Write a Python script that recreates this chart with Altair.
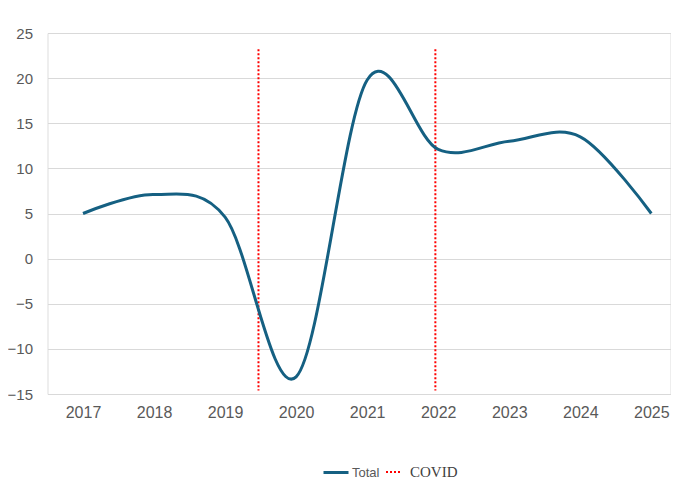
import altair as alt
import pandas as pd

years = [2017, 2018, 2019, 2020, 2021, 2022, 2023, 2024, 2025]
totals = [5.0, 7.1, 4.6, -13.1, 19.8, 12.1, 13.0, 13.5, 5.0]
covid_x = [2019.47, 2021.96]
covid_top = [23.2, 23.2]
covid_bottom = [-14.6, -14.6]
y_ticks = [-15, -10, -5, 0, 5, 10, 15, 20, 25]

line_df = pd.DataFrame({"year": years, "value": totals, "series": ["Total"] * len(years)})
covid_df = pd.DataFrame({"x": covid_x, "top": covid_top, "bottom": covid_bottom,
                         "cv": ["COVID"] * len(covid_x)})

xscale = alt.Scale(domain=[2016.5, 2025.27], nice=False, zero=False)
yscale = alt.Scale(domain=[-15, 25], nice=False, zero=False)

line = alt.Chart(line_df).mark_line(interpolate="cardinal", strokeWidth=3).encode(
    x=alt.X("year:Q", scale=xscale,
            axis=alt.Axis(values=years, format="d", title=None, grid=False, domain=False,
                          ticks=False, labelPadding=10, labelFontSize=16,
                          labelColor="#595959", labelFont="Liberation Sans")),
    y=alt.Y("value:Q", scale=yscale,
            axis=alt.Axis(values=y_ticks, title=None, domain=False, ticks=False,
                          labelPadding=15, labelFontSize=15, labelColor="#595959",
                          labelFont="Liberation Sans", gridColor="#d9d9d9", gridWidth=1)),
    color=alt.Color("series:N", scale=alt.Scale(domain=["Total"], range=["#156082"]),
                    legend=alt.Legend(title=None, orient="none", legendX=274.5, legendY=425.5,
                                      symbolType="stroke", symbolSize=625, symbolStrokeWidth=3,
                                      labelFont="Liberation Sans", labelFontSize=13,
                                      labelColor="#595959", labelOffset=2)),
)

rules = alt.Chart(covid_df).mark_rule(strokeWidth=2).encode(
    x="x:Q",
    y="top:Q",
    y2="bottom:Q",
    stroke=alt.Stroke("cv:N", scale=alt.Scale(domain=["COVID"], range=["#ff0000"]),
                      legend=alt.Legend(title=None, orient="none", legendX=337.5, legendY=430.5,
                                        symbolType="stroke", symbolSize=225, symbolStrokeWidth=2,
                                        labelFont="Liberation Serif", labelFontSize=15,
                                        labelColor="#404040", labelOffset=8)),
    strokeDash=alt.StrokeDash("cv:N", scale=alt.Scale(domain=["COVID"], range=[[2, 2]]),
                              legend=None),
)

chart = alt.layer(rules, line).properties(
    width=623, height=361,
    autosize=alt.AutoSizeParams(type="none"),
    padding={"left": 39.5, "top": 25, "right": 0, "bottom": 88},
).configure_view(stroke=None).configure(background="white")

chart.save("out.html", embed_options={"renderer": "svg", "actions": False})
